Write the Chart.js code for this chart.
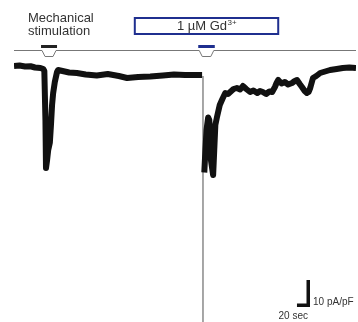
<!DOCTYPE html>
<html>
<head>
  <title>Gd3+ block of mechanically evoked current</title>
  <script src="https://cdn.jsdelivr.net/npm/chart.js"></script>
  <style>
    body { margin: 0; background: #fff; }
    canvas { display: block; }
  </style>
</head>
<body>
  <canvas id="traceChart" width="358" height="322"></canvas>
  <script>
    // whole-cell current trace, time in sec, current in pA/pF (null = off-scale jump)
    var timeSec = [0, 10, 20, 30, 38, 48, 53, 55, 57, 58, 60, 62, 65, 67, 69, 71, 74, 78, 80, 88, 100, 114, 130, 150, 170,
      190, 205, 225, 247, 270, 290, 310, 332, 341,
      342, 345, 347, 349, 352, 354, 356, 357, 361, 363, 365, 368, 373, 378, 383, 388, 392, 398, 404, 410, 415, 421,
      428, 434, 441, 446, 451, 457, 463, 468, 473, 476, 479, 485, 491, 497, 504, 509, 513, 518, 522, 527, 531, 534,
      537, 542, 548, 555, 564, 573, 585, 596, 608, 620];
    var currentPApF = [3.6, 3.8, 3.4, 3.5, 3.0, 2.8, 2.4, 1.6, -18, -37.2, -34, -30, -27, -20, -12, -7.2, -2.8, 1.2, 2, 1.6, 1.0, 0.8, 0.2, -0.2, 0.4,
      -0.4, -1.2, -0.8, -0.6, -0.2, 0.2, 0, 0, 0,
      null, -39, -30, -22, -17, -18, -26, -34, -40, -30, -20, -16.8, -12, -9.5, -7.2, -7.6, -6.8, -5.6, -5.2, -5.8, -4.4, -5.6,
      -6.8, -6.2, -7.2, -6.4, -6.8, -7.6, -6.6, -6.8, -4.8, -3.2, -2, -3.4, -2.8, -3.8, -3.2, -2.4, -2, -3.6, -4.8, -6.4, -7.2, -6.8,
      -5.2, -1.2, -0.4, 0.8, 1.4, 2, 2.4, 2.8, 3.0, 2.8];

    // the off-scale transient at Gd3+ application
    var spikeTime = 342.6;
    var spikeCurrent = [-0.4, -140];

    // stimulus markers (sec)
    var stimStart = [49, 334];
    var stimEnd = [78, 364];
    var stimColor = ['#222222', '#1f2f8f'];

    // Gd3+ bath application bar
    var gdLabel = '1 \u00b5M Gd';
    var gdStart = 219;
    var gdEnd = 479;

    // scale bar sizes
    var scaleSec = 20;
    var scaleCurrent = 10;

    var points = timeSec.map(function(t, i) { return { x: t, y: currentPApF[i] }; });
    var spikePoints = spikeCurrent.map(function(v) { return { x: spikeTime, y: v }; });

    var decorPlugin = {
      id: 'decor',
      afterDraw: function(chart) {
        var ctx = chart.ctx;
        var xs = chart.scales.x;
        var ys = chart.scales.y;
        ctx.save();

        // labels
        ctx.fillStyle = '#333';
        ctx.font = '13px "Liberation Sans", Arial, sans-serif';
        ctx.textBaseline = 'middle';
        ctx.textAlign = 'left';
        ctx.fillText('Mechanical', 28, 18);
        ctx.fillText('stimulation', 28, 31);

        // Gd3+ box
        var bx0 = xs.getPixelForValue(gdStart);
        var bx1 = xs.getPixelForValue(gdEnd);
        ctx.strokeStyle = '#1f2f8f';
        ctx.lineWidth = 2;
        ctx.strokeRect(bx0, 18, bx1 - bx0, 16);
        var tw = ctx.measureText(gdLabel).width;
        ctx.font = '8px "Liberation Sans", Arial, sans-serif';
        var sw = ctx.measureText('3+').width;
        var cx = (bx0 + bx1) / 2 - (tw + sw) / 2;
        ctx.font = '13px "Liberation Sans", Arial, sans-serif';
        ctx.fillText(gdLabel, cx, 26.5);
        ctx.font = '8px "Liberation Sans", Arial, sans-serif';
        ctx.fillText('3+', cx + tw + 0.5, 23);

        // stimulus line with dips
        var lineY = 50;
        ctx.strokeStyle = '#777';
        ctx.lineWidth = 1;
        ctx.beginPath();
        ctx.moveTo(14, lineY + 0.5);
        for (var i = 0; i < stimStart.length; i++) {
          var s0 = xs.getPixelForValue(stimStart[i]);
          var s1 = xs.getPixelForValue(stimEnd[i]);
          ctx.lineTo(s0 + 1, lineY + 0.5);
          ctx.lineTo(s0 + 4, lineY + 6.5);
          ctx.lineTo(s1 - 4, lineY + 6.5);
          ctx.lineTo(s1 - 1, lineY + 0.5);
        }
        ctx.lineTo(356, lineY + 0.5);
        ctx.stroke();
        for (var j = 0; j < stimStart.length; j++) {
          var a = xs.getPixelForValue(stimStart[j]);
          var b = xs.getPixelForValue(stimEnd[j]);
          ctx.fillStyle = stimColor[j];
          ctx.fillRect(a, lineY - 5, b - a, 3);
        }

        // scale bar
        var cornerX = 310, cornerY = 307;
        var hLen = xs.getPixelForValue(scaleSec) - xs.getPixelForValue(0);
        var vLen = ys.getPixelForValue(0) - ys.getPixelForValue(scaleCurrent);
        ctx.fillStyle = '#111';
        ctx.fillRect(cornerX - 3.5, cornerY - vLen - 2, 3.5, vLen + 2);
        ctx.fillRect(cornerX - hLen - 2, cornerY - 3.5, hLen + 2, 3.5);
        ctx.fillStyle = '#333';
        ctx.font = '10px "Liberation Sans", Arial, sans-serif';
        ctx.textAlign = 'left';
        ctx.fillText('10 pA/pF', cornerX + 3, cornerY - 5);
        ctx.textAlign = 'right';
        ctx.fillText('20 sec', cornerX - 2, cornerY + 9);
        ctx.restore();
      }
    };

    var ctx = document.getElementById('traceChart').getContext('2d');
    var chart = new Chart(ctx, {
      type: 'line',
      data: {
        datasets: [{
          data: points,
          borderColor: '#111',
          borderWidth: 6,
          pointRadius: 0,
          tension: 0,
          spanGaps: false,
          borderJoinStyle: 'round',
          borderCapStyle: 'butt'
        }, {
          data: spikePoints,
          borderColor: '#8a8a8a',
          borderWidth: 1.5,
          pointRadius: 0
        }]
      },
      options: {
        responsive: false,
        animation: false,
        layout: { padding: { left: 14, right: 2, top: 0, bottom: 0 } },
        plugins: { legend: { display: false }, tooltip: { enabled: false } },
        scales: {
          x: { type: 'linear', min: 0, max: 620, display: false },
          y: { min: -98.8, max: 30, display: false }
        }
      },
      plugins: [decorPlugin]
    });
  </script>
</body>
</html>
